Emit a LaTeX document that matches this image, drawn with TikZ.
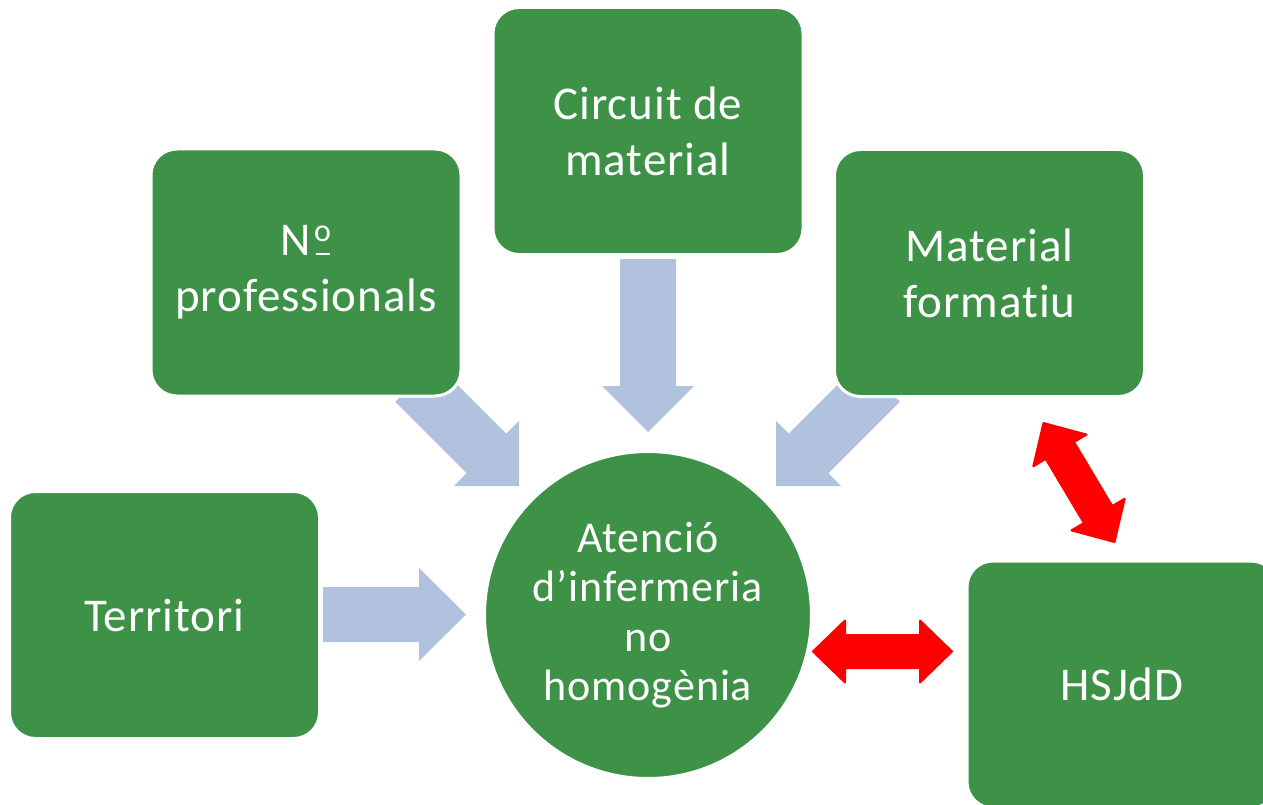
\documentclass[tikz,border=0pt]{standalone}
\usepackage{fontspec}
\setmainfont{Carlito}[Ligatures=NoCommon, LetterSpace=2]
\usetikzlibrary{calc}
\definecolor{boxgreen}{RGB}{62,146,72}
\definecolor{arrowblue}{RGB}{177,194,222}
\definecolor{arrowred}{RGB}{255,0,0}

% masculine ordinal with underline bar (as in Calibri)
\newcommand\ordbar{\leavevmode\kern0.06em\rlap{\kern0.03em\rule[0.02em]{0.31em}{0.045em}}\raisebox{0.31em}{\fontsize{32}{32}\selectfont o}}

% #1 style, #2 tail, #3 tip, #4 shaft half width, #5 head half width, #6 head length, #7 name
\newcommand\myblockarrow[7]{%
  \coordinate (#7h) at ($(#3)!#6!(#2)$);
  \fill[#1] ($(#2)!#4!90:(#3)$) -- ($(#7h)!#4!90:(#3)$) -- ($(#7h)!#5!90:(#3)$) -- (#3)
    -- ($(#7h)!#5!-90:(#3)$) -- ($(#7h)!#4!-90:(#3)$) -- ($(#2)!#4!-90:(#3)$) -- cycle;}
% #1 style, #2 end A, #3 end B, #4 shaft half width, #5 head half width, #6 head length, #7 name
\newcommand\mydblarrow[7]{%
  \coordinate (#7a) at ($(#2)!#6!(#3)$);
  \coordinate (#7b) at ($(#3)!#6!(#2)$);
  \filldraw[#1] (#2) -- ($(#7a)!#5!90:(#3)$) -- ($(#7a)!#4!90:(#3)$) -- ($(#7b)!#4!-90:(#2)$)
    -- ($(#7b)!#5!-90:(#2)$) -- (#3) -- ($(#7b)!#5!90:(#2)$) -- ($(#7b)!#4!90:(#2)$)
    -- ($(#7a)!#4!-90:(#3)$) -- ($(#7a)!#5!-90:(#3)$) -- cycle;}

\tikzset{
  greenbox/.style={rectangle, rounded corners=26pt, fill=boxgreen, draw=white, line width=3pt,
    minimum width=310pt, minimum height=247pt, text=white, align=center,
    font=\fontsize{47}{56}\selectfont},
  greencircle/.style={circle, fill=boxgreen, draw=white, line width=2pt, minimum size=326pt,
    inner sep=0pt, text=white, align=center, font=\fontsize{44}{49.5}\selectfont},
  bluearrow/.style={fill=arrowblue},
  redarrow/.style={fill=arrowred, draw=arrowred, line width=2pt, line join=round}
}

\begin{document}
\begin{tikzpicture}[x=1pt,y=-1pt]
\useasboundingbox (0,0) rectangle (1263,805);
\clip (0,0) rectangle (1263,805);

% arrow end points
\coordinate (downT) at (648,259);
\coordinate (downH) at (648,432);
\coordinate (terT) at (323,614.5);
\coordinate (terH) at (466,614.5);
\coordinate (nprT) at (415,382);
\coordinate (nprH) at (519,486);
\coordinate (matT) at (880,382);
\coordinate (matH) at (776,486);
\coordinate (redL) at (813,651.5);
\coordinate (redR) at (952,651.5);
\coordinate (redU) at (1043.5,423);
\coordinate (redD) at (1114.5,542);

% blue arrows (behind the boxes)
\myblockarrow{bluearrow}{downT}{downH}{28pt}{46pt}{46pt}{a1}
\myblockarrow{bluearrow}{terT}{terH}{27.5pt}{46.5pt}{47pt}{a2}
\myblockarrow{bluearrow}{nprT}{nprH}{28pt}{46pt}{46pt}{a3}
\myblockarrow{bluearrow}{matT}{matH}{28pt}{46pt}{46pt}{a4}

% boxes
\node[greenbox] (circuit) at (648,131) {Circuit de\\material};
\node[greenbox] (npro) at (306,272.5) {N\ordbar\\professionals};
\node[greenbox] (matf) at (989.5,273) {Material\\formatiu};
\node[greenbox] (terr) at (164.5,615) {Territori};
\node[greenbox] (hsjdd) at (1122,684.5) {HSJdD};
\node[greencircle] (aten) at (648,615) {Atenció\\d’infermeria\\no\\homogènia};

% red double arrows
\mydblarrow{redarrow}{redL}{redR}{16.5pt}{31pt}{32pt}{r1}
\mydblarrow{redarrow}{redU}{redD}{16.5pt}{31pt}{32pt}{r2}
\end{tikzpicture}
\end{document}
